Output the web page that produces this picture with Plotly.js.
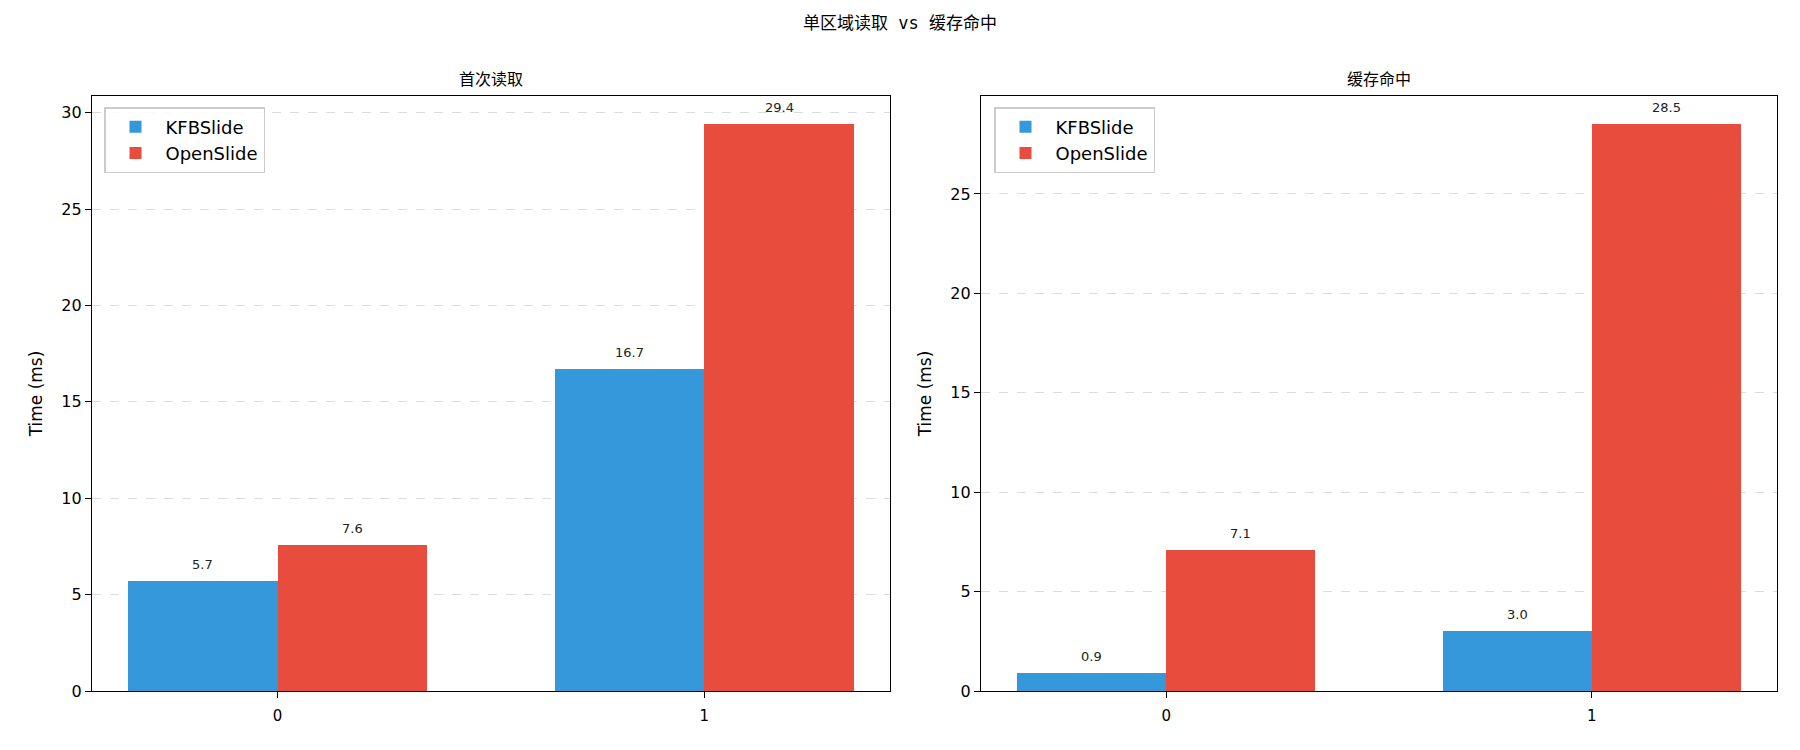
<!DOCTYPE html>
<html><head><meta charset="utf-8">
<script src="https://cdn.plot.ly/plotly-3.0.1.min.js"></script>
<style>html,body{margin:0;padding:0;background:#fff}#chart{width:1800px;height:750px}</style>
</head><body><div id="chart"></div>
<script>
const categories = [0, 1];
const seriesNames = ['KFBSlide', 'OpenSlide'];
const firstReadKFB = [5.7, 16.7];
const firstReadOpen = [7.6, 29.4];
const cacheHitKFB = [0.9, 3.0];
const cacheHitOpen = [7.1, 28.5];
const mainTitle = '单区域读取 vs 缓存命中';
const subTitles = ['首次读取', '缓存命中'];
const yTitle = 'Time (ms)';
const colors = ['#3498db', '#e74c3c'];

const FONT = 'DejaVu Sans, Noto Sans CJK SC, sans-serif';
const CJK = 'Noto Sans CJK SC, DejaVu Sans, sans-serif';
const W = 0.35;

function barTrace(vals, i, xa, ya, leg) {
  return {
    type: 'bar', x: categories, y: vals, name: seriesNames[i],
    width: W, offset: i === 0 ? -W : 0,
    marker: {color: colors[i], line: {width: 0}},
    xaxis: xa, yaxis: ya, legend: leg, showlegend: true, legendgroup: leg + i, hoverinfo: 'y'
  };
}
const traces = [
  barTrace(firstReadKFB, 0, 'x', 'y', 'legend'),
  barTrace(firstReadOpen, 1, 'x', 'y', 'legend'),
  barTrace(cacheHitKFB, 0, 'x2', 'y2', 'legend2'),
  barTrace(cacheHitOpen, 1, 'x2', 'y2', 'legend2')
];

const annotations = [];
function labels(vals, i, xr, yr) {
  vals.forEach((v, k) => {
    annotations.push({
      x: categories[k] + (i === 0 ? -W / 2 : W / 2), y: v, xref: xr, yref: yr,
      text: v.toFixed(1), showarrow: false, yanchor: 'bottom', yshift: 7,
      font: {family: FONT, size: 13, color: '#222'}
    });
  });
}
labels(firstReadKFB, 0, 'x', 'y');
labels(firstReadOpen, 1, 'x', 'y');
labels(cacheHitKFB, 0, 'x2', 'y2');
labels(cacheHitOpen, 1, 'x2', 'y2');

const dom1 = [92 / 1800, 890 / 1800];
const dom2 = [981 / 1800, 1777 / 1800];
const ydom = [(750 - 691) / 750, (750 - 96) / 750];
[dom1, dom2].forEach((d, i) => {
  annotations.push({
    x: (d[0] + d[1]) / 2, y: (750 - 78) / 750, xref: 'paper', yref: 'paper',
    text: subTitles[i], showarrow: false, xanchor: 'center', yanchor: 'middle',
    font: {family: CJK, size: 16, color: '#000'}
  });
});

function xax(d, anchor) {
  return {
    domain: d, anchor: anchor, range: [-0.435, 1.435], tickvals: categories,
    ticktext: categories.map(String), showline: true, linecolor: '#000', linewidth: 1.2,
    mirror: true, ticks: 'outside', ticklen: 6, tickcolor: '#000', showgrid: false,
    zeroline: false, ticklabelstandoff: 5, tickfont: {family: FONT, size: 15, color: '#000'}
  };
}
function yax(maxv, anchor, dtick) {
  return {
    domain: ydom, anchor: anchor, range: [0, maxv * 1.05], dtick: dtick,
    showline: true, linecolor: '#000', linewidth: 1.2, mirror: true,
    ticks: 'outside', ticklen: 6, tickcolor: '#000',
    showgrid: true, gridcolor: '#dcdcdc', griddash: 'dash', gridwidth: 1,
    zeroline: false, tickfont: {family: FONT, size: 16, color: '#000'},
    title: {text: yTitle, font: {family: FONT, size: 17, color: '#000'}, standoff: 14}
  };
}

const legendBase = {
  bgcolor: 'rgba(255,255,255,0.85)', bordercolor: '#cccccc', borderwidth: 1.5,
  font: {family: FONT, size: 18, color: '#000'}, xanchor: 'left', yanchor: 'top',
  tracegroupgap: 5, itemwidth: 50, traceorder: 'normal'
};

// style the Latin "vs" part like the reference (monospace)
const titleHtml = mainTitle.replace(/ vs /, '<span style="font-family:DejaVu Sans Mono"> vs </span>');

const layout = {
  width: 1800, height: 750, margin: {l: 0, r: 0, t: 0, b: 0},
  paper_bgcolor: '#fff', plot_bgcolor: '#fff', barmode: 'overlay', bargap: 0,
  title: {text: titleHtml, x: 0.5, xanchor: 'center', y: 1 - 23 / 750, yanchor: 'middle',
    xref: 'paper', yref: 'paper', font: {family: CJK, size: 17, color: '#000'}},
  xaxis: xax(dom1, 'y'), yaxis: yax(Math.max(...firstReadOpen, ...firstReadKFB), 'x', 5),
  xaxis2: xax(dom2, 'y2'), yaxis2: yax(Math.max(...cacheHitOpen, ...cacheHitKFB), 'x2', 5),
  legend: Object.assign({}, legendBase, {x: 104 / 1800, y: (750 - 107) / 750}),
  legend2: Object.assign({}, legendBase, {x: 994 / 1800, y: (750 - 107) / 750}),
  annotations: annotations, hovermode: false
};
Plotly.newPlot('chart', traces, layout, {displayModeBar: false, staticPlot: true});
</script></body></html>
